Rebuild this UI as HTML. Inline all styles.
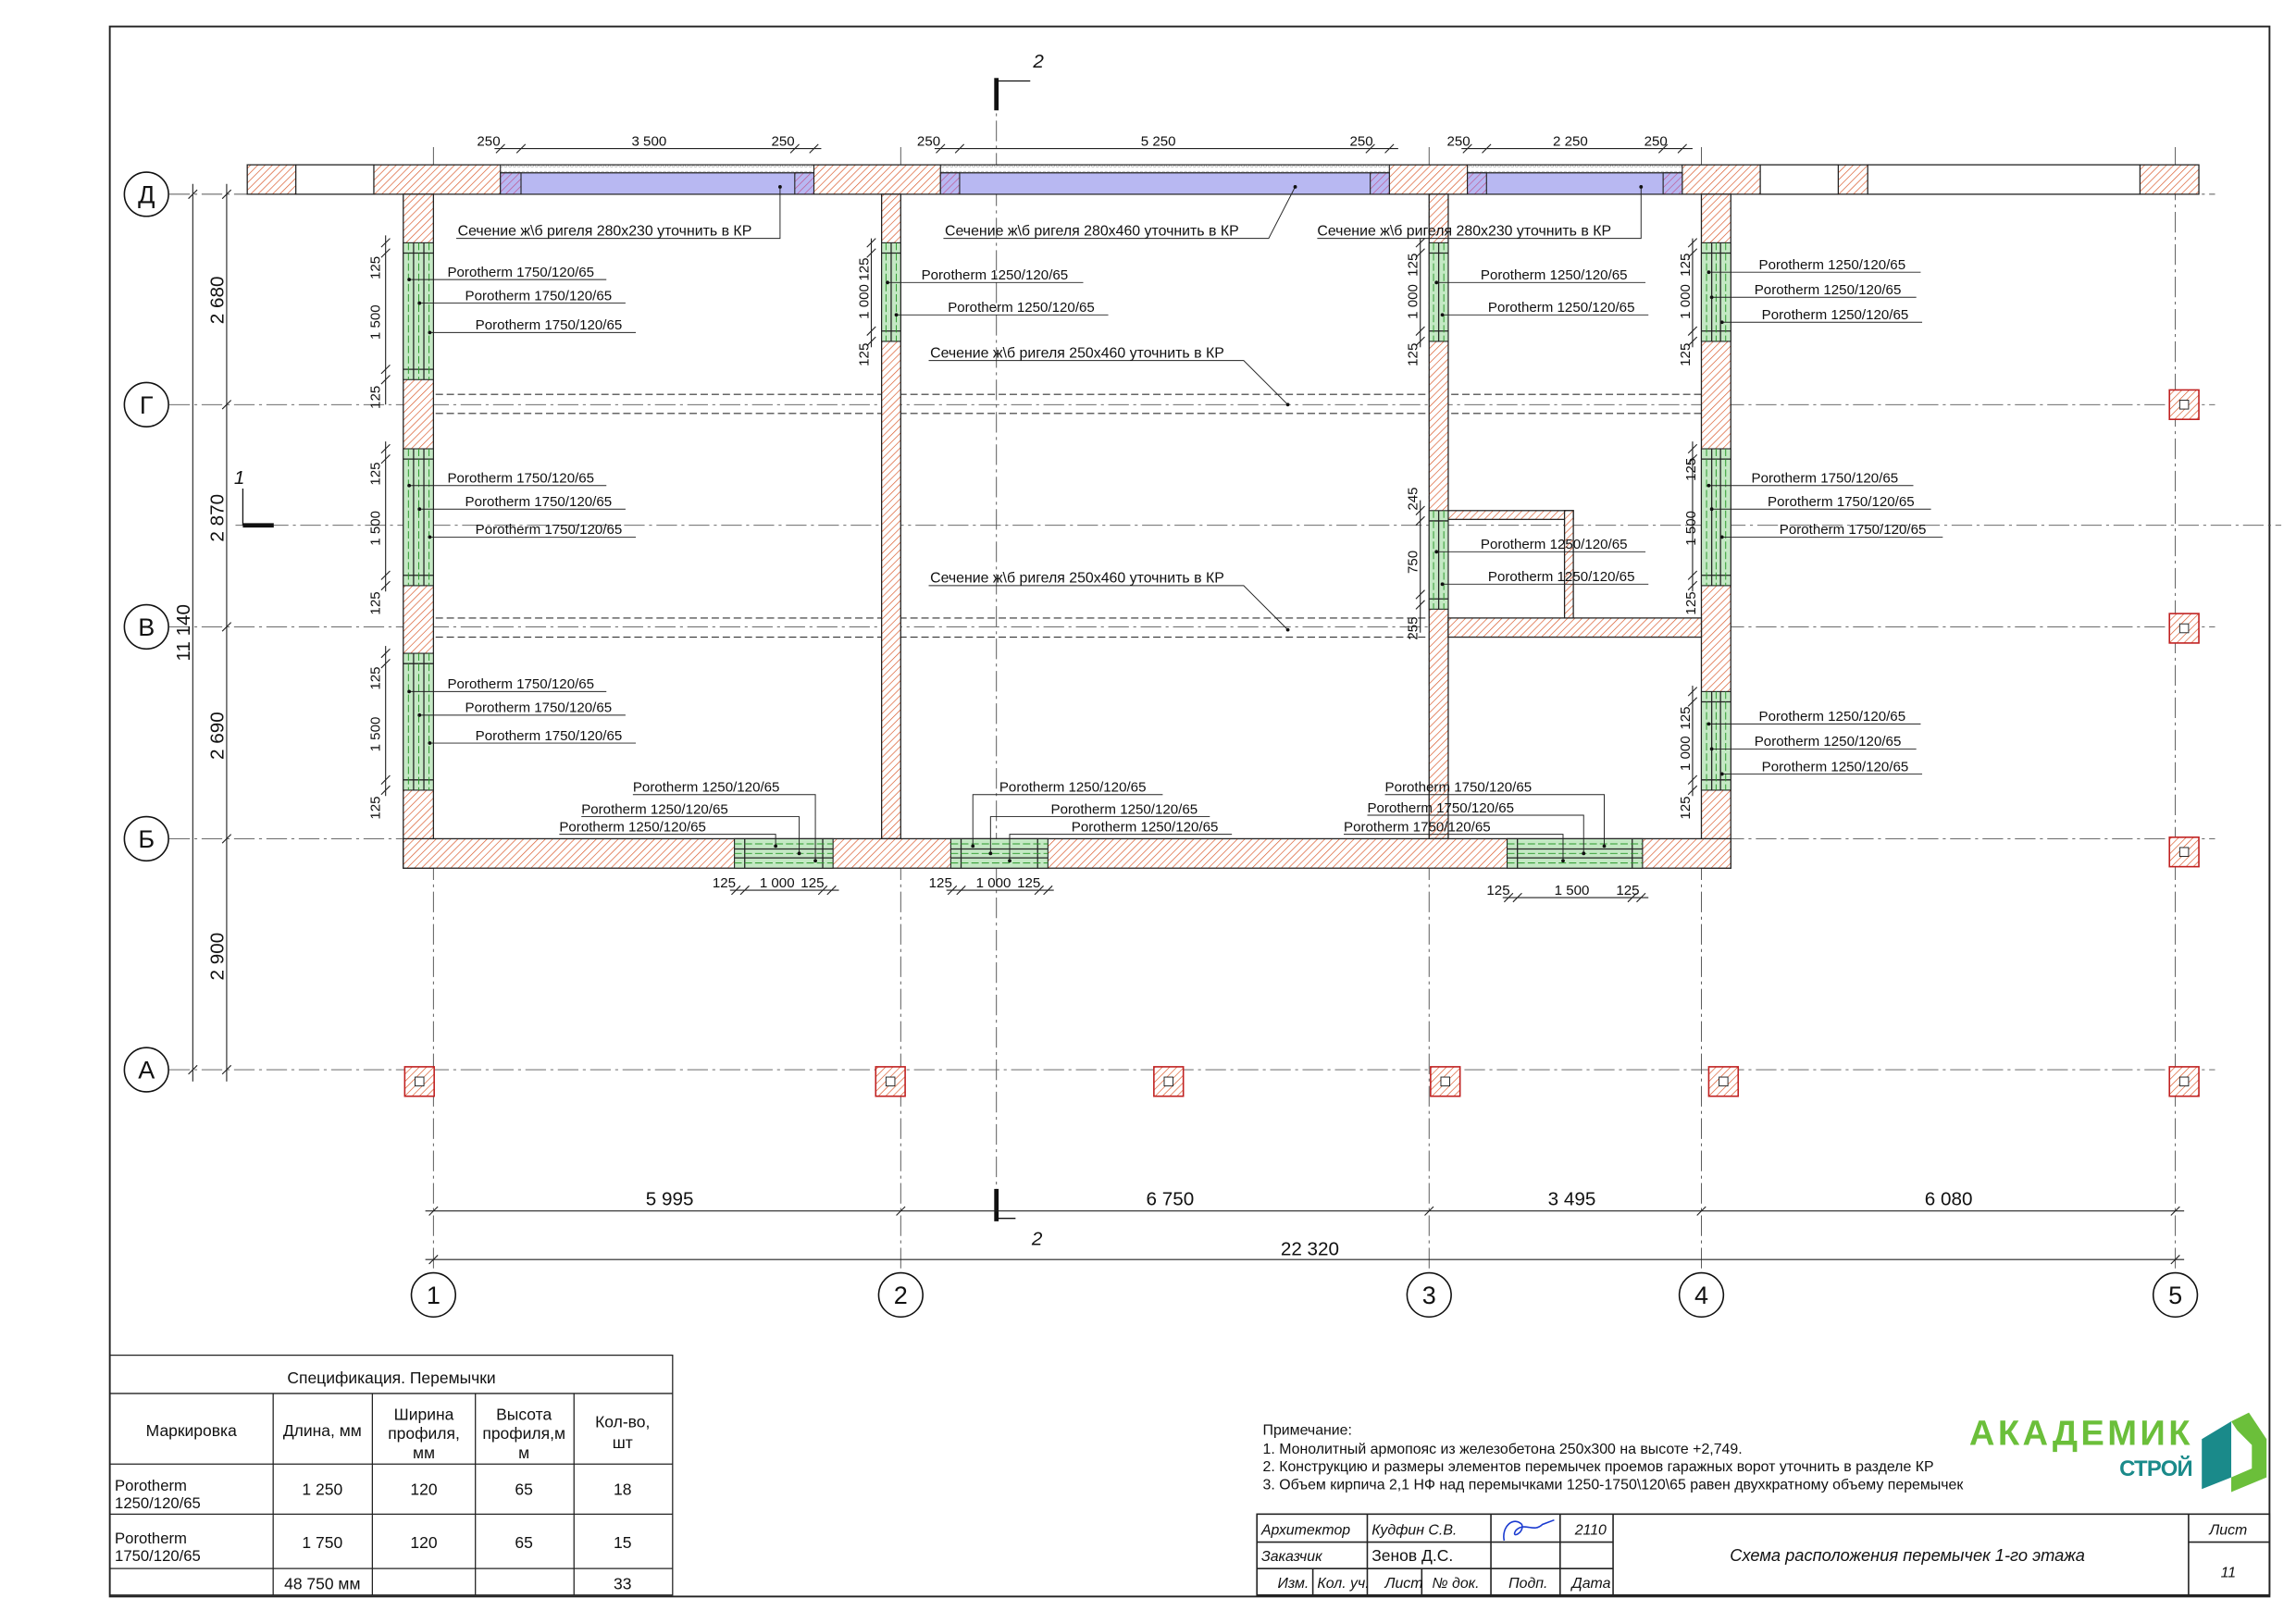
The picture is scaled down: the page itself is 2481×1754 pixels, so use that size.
<!DOCTYPE html>
<html><head><meta charset="utf-8">
<style>
html,body{margin:0;padding:0;background:#fff;}
svg{display:block;}
text{font-family:"Liberation Sans Narrow","Liberation Sans","DejaVu Sans",sans-serif;fill:#111;}
</style></head>
<body>
<svg width="2481" height="1754" viewBox="0 0 1560 1103" preserveAspectRatio="none" xmlns="http://www.w3.org/2000/svg">
<defs>
<pattern id="h" width="3.5" height="3.5" patternUnits="userSpaceOnUse" patternTransform="rotate(45)">
<rect width="3.5" height="3.5" fill="#fff"/>
<line x1="0" y1="0" x2="0" y2="3.5" stroke="#d9582a" stroke-width="0.85"/></pattern>
<pattern id="hp" width="3.5" height="3.5" patternUnits="userSpaceOnUse" patternTransform="rotate(45)">
<rect width="3.5" height="3.5" fill="#b8b8f2"/>
<line x1="0" y1="0" x2="0" y2="3.5" stroke="#c0508a" stroke-width="0.8"/></pattern>
<pattern id="gr" width="3" height="5" patternUnits="userSpaceOnUse">
<rect width="3" height="5" fill="#fff"/><circle cx="1.5" cy="2.5" r="1" fill="none" stroke="#999" stroke-width="0.4"/></pattern>
</defs>
<rect x="0" y="0" width="1560" height="1103" fill="#fff"/>
<rect x="74.6" y="18" width="1467.4" height="1067" fill="none" stroke="#222" stroke-width="1.2"/>

<g stroke="#555" stroke-width="0.6" stroke-dasharray="14 3 2 3" fill="none">
<line x1="115" y1="132" x2="1505" y2="132"/>
<line x1="115" y1="275" x2="1505" y2="275"/>
<line x1="115" y1="426" x2="1505" y2="426"/>
<line x1="115" y1="570" x2="1505" y2="570"/>
<line x1="115" y1="727" x2="1505" y2="727"/>
<line x1="160" y1="357" x2="1550" y2="357"/>
<line x1="294.5" y1="100" x2="294.5" y2="865"/>
<line x1="612" y1="100" x2="612" y2="865"/>
<line x1="971" y1="100" x2="971" y2="865"/>
<line x1="1156" y1="100" x2="1156" y2="865"/>
<line x1="1478" y1="100" x2="1478" y2="865"/>
<line x1="677" y1="60" x2="677" y2="825"/>
</g>

<g stroke="#333" stroke-width="0.7" stroke-dasharray="5 2.5">
<line x1="296" y1="268" x2="1176" y2="268"/><line x1="296" y1="281" x2="1156" y2="281"/>
<line x1="296" y1="420" x2="984" y2="420"/><line x1="296" y1="433" x2="984" y2="433"/>
</g>

<g stroke="#222" stroke-width="0.8">
<rect x="168" y="112" width="1326" height="20" fill="url(#h)"/>
<rect x="201" y="112" width="53" height="20" fill="#fff"/>
<rect x="1196" y="112" width="53" height="20" fill="#fff"/>
<rect x="1269" y="112" width="185" height="20" fill="#fff"/>
<rect x="274" y="132" width="20.5" height="458" fill="url(#h)"/>
<rect x="599" y="132" width="13" height="438" fill="url(#h)"/>
<rect x="971" y="132" width="13" height="438" fill="url(#h)"/>
<rect x="1156" y="132" width="20" height="458" fill="url(#h)"/>
<rect x="274" y="570" width="902" height="20" fill="url(#h)"/>
<rect x="984" y="420" width="172" height="13" fill="url(#h)"/>
<rect x="984" y="347" width="85" height="6" fill="url(#h)"/>
<rect x="1063" y="347" width="6" height="73" fill="url(#h)"/>
</g>
<g stroke="#222" stroke-width="0.7">
<rect x="340" y="112" width="213" height="5.5" fill="url(#gr)"/>
<rect x="340" y="117.5" width="213" height="14.5" fill="#b8b8f2"/>
<rect x="340" y="117.5" width="14" height="14.5" fill="url(#hp)"/>
<rect x="540" y="117.5" width="13" height="14.5" fill="url(#hp)"/>
<rect x="639" y="112" width="305" height="5.5" fill="url(#gr)"/>
<rect x="639" y="117.5" width="305" height="14.5" fill="#b8b8f2"/>
<rect x="639" y="117.5" width="13" height="14.5" fill="url(#hp)"/>
<rect x="931" y="117.5" width="13" height="14.5" fill="url(#hp)"/>
<rect x="997" y="112" width="146" height="5.5" fill="url(#gr)"/>
<rect x="997" y="117.5" width="146" height="14.5" fill="#b8b8f2"/>
<rect x="997" y="117.5" width="13" height="14.5" fill="url(#hp)"/>
<rect x="1130" y="117.5" width="13" height="14.5" fill="url(#hp)"/>
</g>

<g stroke="#222" stroke-width="0.7">
<rect x="274" y="165" width="20.5" height="93" fill="#c4e8c4"/>
<rect x="274" y="305" width="20.5" height="93" fill="#c4e8c4"/>
<rect x="274" y="444" width="20.5" height="93" fill="#c4e8c4"/>
<rect x="599" y="165" width="13" height="67" fill="#c4e8c4"/>
<rect x="971" y="165" width="13" height="67" fill="#c4e8c4"/>
<rect x="971" y="347" width="13" height="67" fill="#c4e8c4"/>
<rect x="1156" y="165" width="20" height="67" fill="#c4e8c4"/>
<rect x="1156" y="305" width="20" height="93" fill="#c4e8c4"/>
<rect x="1156" y="470" width="20" height="67" fill="#c4e8c4"/>
<rect x="499" y="570" width="67" height="20" fill="#c4e8c4"/>
<rect x="646" y="570" width="66" height="20" fill="#c4e8c4"/>
<rect x="1024" y="570" width="92" height="20" fill="#c4e8c4"/>
</g>
<g stroke="#222" stroke-width="0.8">
<path d="M281 165V258M288 165V258M274 172H294.5M274 251H294.5"/>
<path d="M281 305V398M288 305V398M274 312H294.5M274 391H294.5"/>
<path d="M281 444V537M288 444V537M274 451H294.5M274 530H294.5"/>
<path d="M605.5 165V232M599 172H612M599 225H612"/>
<path d="M977.5 165V232M971 172H984M971 225H984"/>
<path d="M977.5 347V414M971 354H984M971 407H984"/>
<path d="M1163 165V232M1169 165V232M1156 172H1176M1156 225H1176"/>
<path d="M1163 305V398M1169 305V398M1156 312H1176M1156 391H1176"/>
<path d="M1163 470V537M1169 470V537M1156 477H1176M1156 530H1176"/>
<path d="M499 577H566M499 583H566M506 570V590M559 570V590"/>
<path d="M646 577H712M646 583H712M653 570V590M705 570V590"/>
<path d="M1024 577H1116M1024 583H1116M1031 570V590M1109 570V590"/>
</g>
<g stroke="#2a9a2a" stroke-width="0.6" stroke-dasharray="5 2">
<path d="M277.5 165V258M284.5 165V258M291.5 165V258"/>
<path d="M277.5 305V398M284.5 305V398M291.5 305V398"/>
<path d="M277.5 444V537M284.5 444V537M291.5 444V537"/>
<path d="M602 165V232M609 165V232M974 165V232M981 165V232M974 347V414M981 347V414"/>
<path d="M1159.5 165V232M1166 165V232M1172.5 165V232"/>
<path d="M1159.5 305V398M1166 305V398M1172.5 305V398"/>
<path d="M1159.5 470V537M1166 470V537M1172.5 470V537"/>
<path d="M499 573.5H566M499 580H566M499 586.5H566"/>
<path d="M646 573.5H712M646 580H712M646 586.5H712"/>
<path d="M1024 573.5H1116M1024 580H1116M1024 586.5H1116"/>
</g>

<g stroke="#c02020" stroke-width="1">
<rect x="1474" y="265" width="20" height="20" fill="url(#h)"/>
<rect x="1474" y="417" width="20" height="20" fill="url(#h)"/>
<rect x="1474" y="569" width="20" height="20" fill="url(#h)"/>
<rect x="275" y="725" width="20" height="20" fill="url(#h)"/>
<rect x="595" y="725" width="20" height="20" fill="url(#h)"/>
<rect x="784" y="725" width="20" height="20" fill="url(#h)"/>
<rect x="972" y="725" width="20" height="20" fill="url(#h)"/>
<rect x="1161" y="725" width="20" height="20" fill="url(#h)"/>
<rect x="1474" y="725" width="20" height="20" fill="url(#h)"/>
</g>
<g stroke="#222" stroke-width="0.6" fill="#fff">
<rect x="1481" y="272" width="6" height="6"/><rect x="1481" y="424" width="6" height="6"/><rect x="1481" y="576" width="6" height="6"/>
<rect x="282" y="732" width="6" height="6"/><rect x="602" y="732" width="6" height="6"/><rect x="791" y="732" width="6" height="6"/>
<rect x="979" y="732" width="6" height="6"/><rect x="1168" y="732" width="6" height="6"/><rect x="1481" y="732" width="6" height="6"/>
</g>

<g stroke="#111" fill="none">
<path d="M677 53V75" stroke-width="3"/><path d="M677 55H700" stroke-width="0.8"/>
<path d="M677 808V830" stroke-width="3"/><path d="M677 828H690" stroke-width="0.8"/>
<path d="M165 357H186" stroke-width="3"/><path d="M165 357V332" stroke-width="0.8"/>
</g>
<text x="702" y="46" font-size="13" font-style="italic">2</text>
<text x="701" y="846" font-size="13" font-style="italic">2</text>
<text x="159" y="329" font-size="13" font-style="italic">1</text>

<g fill="#fff" stroke="#111" stroke-width="1">
<circle cx="99.5" cy="132" r="15"/><circle cx="99.5" cy="275" r="15"/><circle cx="99.5" cy="426" r="15"/><circle cx="99.5" cy="570" r="15"/><circle cx="99.5" cy="727" r="15"/>
<circle cx="294.5" cy="880" r="15"/><circle cx="612" cy="880" r="15"/><circle cx="971" cy="880" r="15"/><circle cx="1156" cy="880" r="15"/><circle cx="1478" cy="880" r="15"/>
</g>
<g font-size="17" text-anchor="middle">
<text x="99.5" y="138">Д</text><text x="99.5" y="281">Г</text><text x="99.5" y="432">В</text><text x="99.5" y="576">Б</text><text x="99.5" y="733">А</text>
<text x="294.5" y="886">1</text><text x="612" y="886">2</text><text x="971" y="886">3</text><text x="1156" y="886">4</text><text x="1478" y="886">5</text>
</g>

<g stroke="#222" stroke-width="0.7" fill="none">
<line x1="131" y1="125" x2="131" y2="735"/><line x1="154" y1="125" x2="154" y2="735"/>
<path d="M128 135L134 129M128 730L134 724M151 135L157 129M151 278L157 272M151 429L157 423M151 573L157 567M151 730L157 724"/>
<line x1="289" y1="823" x2="1484" y2="823"/><line x1="289" y1="856" x2="1484" y2="856"/>
<path d="M291.5 826L297.5 820M609 826L615 820M968 826L974 820M1153 826L1159 820M1475 826L1481 820"/>
<path d="M291.5 859L297.5 853M1475 859L1481 853"/>
<line x1="336" y1="101" x2="558" y2="101"/>
<path d="M337 104L343 98M351 104L357 98M537 104L543 98M550 104L556 98"/>
<line x1="635" y1="101" x2="950" y2="101"/>
<path d="M636 104L642 98M649 104L655 98M928 104L934 98M941 104L947 98"/>
<line x1="993" y1="101" x2="1150" y2="101"/>
<path d="M994 104L1000 98M1007 104L1013 98M1127 104L1133 98M1140 104L1146 98"/>
<line x1="496" y1="605" x2="570" y2="605"/>
<path d="M497 608L503 602M503 608L509 602M556 608L562 602M562 608L568 602"/>
<line x1="643" y1="605" x2="716" y2="605"/>
<path d="M644 608L650 602M650 608L656 602M703 608L709 602M709 608L715 602"/>
<line x1="1021" y1="610" x2="1120" y2="610"/>
<path d="M1022 613L1028 607M1028 613L1034 607M1106 613L1112 607M1112 613L1118 607"/>
<line x1="262" y1="160" x2="262" y2="275"/><path d="M259 168L265 162M259 175L265 169M259 254L265 248M259 261L265 255"/>
<line x1="262" y1="300" x2="262" y2="402"/><path d="M259 308L265 302M259 315L265 309M259 394L265 388M259 401L265 395"/>
<line x1="262" y1="439" x2="262" y2="541"/><path d="M259 447L265 441M259 454L265 448M259 533L265 527M259 540L265 534"/>
<line x1="592" y1="162" x2="592" y2="236"/><path d="M589 168L595 162M589 175L595 169M589 228L595 222M589 235L595 229"/>
<line x1="965" y1="162" x2="965" y2="236"/><path d="M962 168L968 162M962 175L968 169M962 228L968 222M962 235L968 229"/>
<line x1="965" y1="340" x2="965" y2="430"/><path d="M962 350L968 344M962 357L968 351M962 407L968 401M962 414L968 408"/>
<line x1="1150" y1="162" x2="1150" y2="236"/><path d="M1147 168L1153 162M1147 175L1153 169M1147 228L1153 222M1147 235L1153 229"/>
<line x1="1150" y1="300" x2="1150" y2="402"/><path d="M1147 308L1153 302M1147 315L1153 309M1147 394L1153 388M1147 401L1153 395"/>
<line x1="1150" y1="466" x2="1150" y2="541"/><path d="M1147 473L1153 467M1147 480L1153 474M1147 533L1153 527M1147 540L1153 534"/>
</g>
<g font-size="13" text-anchor="middle">
<text x="455" y="819">5 995</text><text x="795" y="819">6 750</text><text x="1068" y="819">3 495</text><text x="1324" y="819">6 080</text>
<text x="890" y="853">22 320</text>
<text transform="translate(152,204) rotate(-90)">2 680</text>
<text transform="translate(152,352) rotate(-90)">2 870</text>
<text transform="translate(152,500) rotate(-90)">2 690</text>
<text transform="translate(152,650) rotate(-90)">2 900</text>
<text transform="translate(129,430) rotate(-90)">11 140</text>
</g>
<g font-size="9.5" text-anchor="middle">
<text x="332" y="99">250</text><text x="441" y="99">3 500</text><text x="532" y="99">250</text>
<text x="631" y="99">250</text><text x="787" y="99">5 250</text><text x="925" y="99">250</text>
<text x="991" y="99">250</text><text x="1067" y="99">2 250</text><text x="1125" y="99">250</text>
<text x="492" y="603">125</text><text x="528" y="603">1 000</text><text x="552" y="603">125</text>
<text x="639" y="603">125</text><text x="675" y="603">1 000</text><text x="699" y="603">125</text>
<text x="1018" y="608">125</text><text x="1068" y="608">1 500</text><text x="1106" y="608">125</text>
<text transform="translate(258,182) rotate(-90)">125</text><text transform="translate(258,219) rotate(-90)">1 500</text><text transform="translate(258,270) rotate(-90)">125</text>
<text transform="translate(258,322) rotate(-90)">125</text><text transform="translate(258,359) rotate(-90)">1 500</text><text transform="translate(258,410) rotate(-90)">125</text>
<text transform="translate(258,461) rotate(-90)">125</text><text transform="translate(258,499) rotate(-90)">1 500</text><text transform="translate(258,549) rotate(-90)">125</text>
<text transform="translate(590,183) rotate(-90)">125</text><text transform="translate(590,205) rotate(-90)">1 000</text><text transform="translate(590,241) rotate(-90)">125</text>
<text transform="translate(963,180) rotate(-90)">125</text><text transform="translate(963,205) rotate(-90)">1 000</text><text transform="translate(963,241) rotate(-90)">125</text>
<text transform="translate(963,339) rotate(-90)">245</text><text transform="translate(963,382) rotate(-90)">750</text><text transform="translate(963,427) rotate(-90)">255</text>
<text transform="translate(1148,180) rotate(-90)">125</text><text transform="translate(1148,205) rotate(-90)">1 000</text><text transform="translate(1148,241) rotate(-90)">125</text>
<text transform="translate(1152,319) rotate(-90)">125</text><text transform="translate(1152,359) rotate(-90)">1 500</text><text transform="translate(1152,410) rotate(-90)">125</text>
<text transform="translate(1148,488) rotate(-90)">125</text><text transform="translate(1148,512) rotate(-90)">1 000</text><text transform="translate(1148,549) rotate(-90)">125</text>
</g>

<g stroke="#222" stroke-width="0.6" fill="none">
<path d="M278 190H412M285 206H425M292 226H432"/>
<path d="M278 330H412M285 346H425M292 365H432"/>
<path d="M278 470H412M285 486H425M292 505H432"/>
<path d="M603 192H736M609 214H753"/>
<path d="M976 192H1118M980 214H1120"/>
<path d="M976 375H1118M980 397H1120"/>
<path d="M1161 185H1305M1163 202H1302M1170 219H1306"/>
<path d="M1161 330H1300M1163 346H1312M1170 365H1320"/>
<path d="M1161 492H1305M1163 509H1302M1170 526H1306"/>
<path d="M430 540H554V585M395 555H543V580M380 567H527V575"/>
<path d="M661 575V540H790M673 580V555H822M686 585V567H837"/>
<path d="M941 540H1090V575M929 554H1076V580M913 567H1062V585"/>
<path d="M310 162H530V127M641 162H862L880 127M895 162H1115V127"/>
<path d="M631 245H845L875 275M631 398H845L875 428"/>
</g>
<g fill="#111">
<circle cx="278" cy="190" r="1.2"/><circle cx="285" cy="206" r="1.2"/><circle cx="292" cy="226" r="1.2"/>
<circle cx="278" cy="330" r="1.2"/><circle cx="285" cy="346" r="1.2"/><circle cx="292" cy="365" r="1.2"/>
<circle cx="278" cy="470" r="1.2"/><circle cx="285" cy="486" r="1.2"/><circle cx="292" cy="505" r="1.2"/>
<circle cx="603" cy="192" r="1.2"/><circle cx="609" cy="214" r="1.2"/><circle cx="976" cy="192" r="1.2"/><circle cx="980" cy="214" r="1.2"/>
<circle cx="976" cy="375" r="1.2"/><circle cx="980" cy="397" r="1.2"/>
<circle cx="1161" cy="185" r="1.2"/><circle cx="1163" cy="202" r="1.2"/><circle cx="1170" cy="219" r="1.2"/>
<circle cx="1161" cy="330" r="1.2"/><circle cx="1163" cy="346" r="1.2"/><circle cx="1170" cy="365" r="1.2"/>
<circle cx="1161" cy="492" r="1.2"/><circle cx="1163" cy="509" r="1.2"/><circle cx="1170" cy="526" r="1.2"/>
<circle cx="554" cy="585" r="1.2"/><circle cx="543" cy="580" r="1.2"/><circle cx="527" cy="575" r="1.2"/>
<circle cx="661" cy="575" r="1.2"/><circle cx="673" cy="580" r="1.2"/><circle cx="686" cy="585" r="1.2"/>
<circle cx="1090" cy="575" r="1.2"/><circle cx="1076" cy="580" r="1.2"/><circle cx="1062" cy="585" r="1.2"/>
<circle cx="530" cy="127" r="1.2"/><circle cx="880" cy="127" r="1.2"/><circle cx="1115" cy="127" r="1.2"/>
<circle cx="875" cy="275" r="1.2"/><circle cx="875" cy="428" r="1.2"/>
</g>
<g font-size="9.5">
<text x="304" y="188">Porotherm 1750/120/65</text><text x="316" y="204">Porotherm 1750/120/65</text><text x="323" y="224">Porotherm 1750/120/65</text>
<text x="304" y="328">Porotherm 1750/120/65</text><text x="316" y="344">Porotherm 1750/120/65</text><text x="323" y="363">Porotherm 1750/120/65</text>
<text x="304" y="468">Porotherm 1750/120/65</text><text x="316" y="484">Porotherm 1750/120/65</text><text x="323" y="503">Porotherm 1750/120/65</text>
<text x="626" y="190">Porotherm 1250/120/65</text><text x="644" y="212">Porotherm 1250/120/65</text>
<text x="1006" y="190">Porotherm 1250/120/65</text><text x="1011" y="212">Porotherm 1250/120/65</text>
<text x="1006" y="373">Porotherm 1250/120/65</text><text x="1011" y="395">Porotherm 1250/120/65</text>
<text x="1195" y="183">Porotherm 1250/120/65</text><text x="1192" y="200">Porotherm 1250/120/65</text><text x="1197" y="217">Porotherm 1250/120/65</text>
<text x="1190" y="328">Porotherm 1750/120/65</text><text x="1201" y="344">Porotherm 1750/120/65</text><text x="1209" y="363">Porotherm 1750/120/65</text>
<text x="1195" y="490">Porotherm 1250/120/65</text><text x="1192" y="507">Porotherm 1250/120/65</text><text x="1197" y="524">Porotherm 1250/120/65</text>
<text x="430" y="538">Porotherm 1250/120/65</text><text x="395" y="553">Porotherm 1250/120/65</text><text x="380" y="565">Porotherm 1250/120/65</text>
<text x="679" y="538">Porotherm 1250/120/65</text><text x="714" y="553">Porotherm 1250/120/65</text><text x="728" y="565">Porotherm 1250/120/65</text>
<text x="941" y="538">Porotherm 1750/120/65</text><text x="929" y="552">Porotherm 1750/120/65</text><text x="913" y="565">Porotherm 1750/120/65</text>
</g>
<g font-size="10">
<text x="311" y="160">Сечение ж\б ригеля 280x230 уточнить в КР</text>
<text x="642" y="160">Сечение ж\б ригеля 280x460 уточнить в КР</text>
<text x="895" y="160">Сечение ж\б ригеля 280x230 уточнить в КР</text>
<text x="632" y="243">Сечение ж\б ригеля 250x460 уточнить в КР</text>
<text x="632" y="396">Сечение ж\б ригеля 250x460 уточнить в КР</text>
</g>

<g stroke="#222" stroke-width="0.8" fill="none">
<rect x="74.6" y="921" width="382.4" height="163"/>
<path d="M74.6 947H457M74.6 995H457M74.6 1029H457M74.6 1066H457"/>
<path d="M185.6 947V1084M253 947V1084M323 947V1084M390 947V1084"/>
</g>
<g font-size="11" text-anchor="middle">
<text x="266" y="940">Спецификация. Перемычки</text>
<text x="130" y="976">Маркировка</text>
<text x="219" y="976">Длина, мм</text>
<text x="288" y="965">Ширина</text><text x="288" y="978">профиля,</text><text x="288" y="991">мм</text>
<text x="356" y="965">Высота</text><text x="356" y="978">профиля,м</text><text x="356" y="991">м</text>
<text x="423" y="970">Кол-во,</text><text x="423" y="984">шт</text>
<text x="219" y="1016">1 250</text><text x="288" y="1016">120</text><text x="356" y="1016">65</text><text x="423" y="1016">18</text>
<text x="219" y="1052">1 750</text><text x="288" y="1052">120</text><text x="356" y="1052">65</text><text x="423" y="1052">15</text>
<text x="219" y="1080">48 750 мм</text><text x="423" y="1080">33</text>
</g>
<g font-size="10.5">
<text x="78" y="1013">Porotherm</text><text x="78" y="1025">1250/120/65</text>
<text x="78" y="1049">Porotherm</text><text x="78" y="1061">1750/120/65</text>
</g>

<g font-size="10">
<text x="858" y="975">Примечание:</text>
<text x="858" y="988">1. Монолитный армопояс из железобетона 250x300 на высоте +2,749.</text>
<text x="858" y="1000">2. Конструкцию и размеры элементов перемычек проемов гаражных ворот уточнить в разделе КР</text>
<text x="858" y="1012">3. Объем кирпича 2,1 НФ над перемычками 1250-1750\120\65 равен двухкратному объему перемычек</text>
</g>
<text x="1338" y="982" font-size="24" font-weight="bold" style="fill:#6bbf3a" textLength="150">АКАДЕМИК</text>
<text x="1440" y="1003" font-size="15" font-weight="bold" style="fill:#1a8a8a" textLength="50">СТРОЙ</text>
<path d="M1496 978L1516 966V1004L1496 1012Z" fill="#1a8a8a"/>
<path d="M1516 966L1528 960L1540 978V1004L1516 1014V1004L1530 998V982L1520 972Z" fill="#6bbf3a"/>

<g stroke="#222" stroke-width="1" fill="none">
<rect x="854" y="1029" width="688" height="55"/>
<path d="M854 1048H1096M854 1066H1096M1487 1048H1542"/>
<path d="M929 1029V1084M1013 1029V1084M1060 1029V1084M1096 1029V1084M1487 1029V1084M892 1066V1084M966 1066V1084"/>
</g>
<g font-size="10" font-style="italic">
<text x="857" y="1043">Архитектор</text><text x="932" y="1043">Кудфин С.В.</text><text x="1070" y="1043">2110</text>
<text x="857" y="1061">Заказчик</text><text x="932" y="1061" font-style="normal" font-size="11">Зенов Д.С.</text>
<text x="868" y="1079">Изм.</text><text x="895" y="1079">Кол. уч.</text><text x="941" y="1079">Лист</text><text x="973" y="1079">№ док.</text><text x="1025" y="1079">Подп.</text><text x="1068" y="1079">Дата</text>
<text x="1296" y="1061" font-size="11.5" text-anchor="middle">Схема расположения перемычек 1-го этажа</text>
<text x="1514" y="1043" text-anchor="middle">Лист</text>
<text x="1514" y="1072" text-anchor="middle">11</text>
</g>
<path d="M1022 1047C1020 1038 1028 1030 1034 1036C1036 1042 1026 1046 1030 1040C1036 1034 1042 1042 1048 1036L1056 1033" stroke="#1a3ad0" stroke-width="1" fill="none"/>
</svg>
</body></html>
